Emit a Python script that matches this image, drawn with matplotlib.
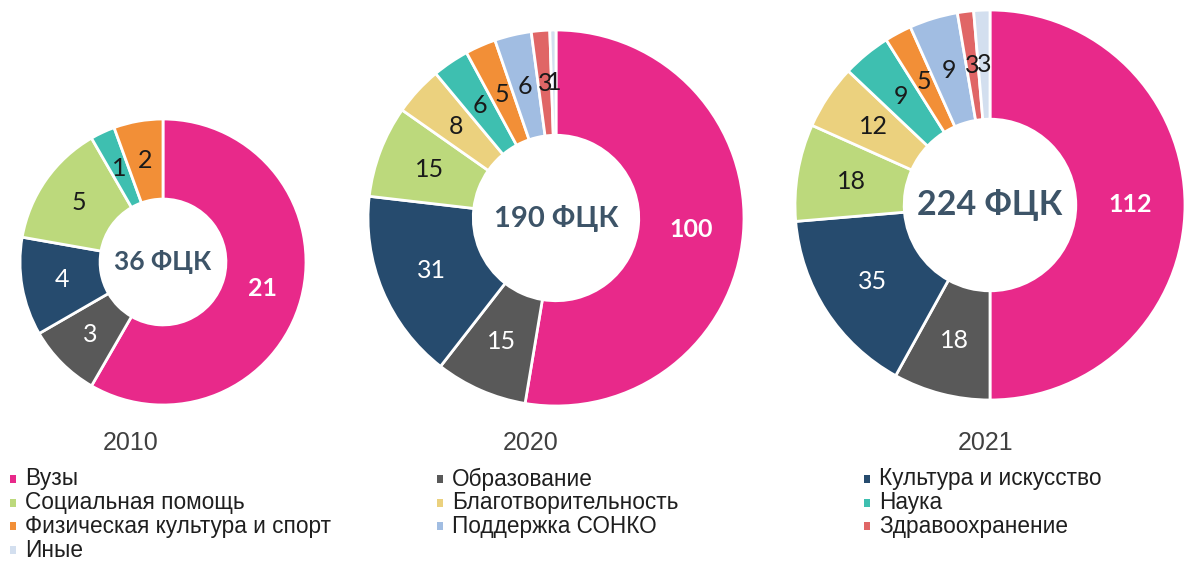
import numpy as np
import matplotlib.pyplot as plt
from matplotlib.patches import Rectangle

# категории и цвета
categories = ['Вузы', 'Образование', 'Культура и искусство', 'Социальная помощь',
              'Благотворительность', 'Наука', 'Физическая культура и спорт',
              'Поддержка СОНКО', 'Здравоохранение', 'Иные']
colors = ['#e8298a', '#595959', '#264b6e', '#bcd97c', '#ebd17e', '#3ebfb0',
          '#f28f37', '#a1bde2', '#e06666', '#d3dfef']

years = ['2010', '2020', '2021']
values_2010 = [21, 3, 4, 5, 0, 1, 2, 0, 0, 0]
values_2020 = [100, 15, 31, 15, 8, 6, 5, 6, 3, 1]
values_2021 = [112, 18, 35, 18, 12, 9, 5, 9, 3, 3]
all_values = [values_2010, values_2020, values_2021]

W, H = 1187, 562
fig = plt.figure(figsize=(W / 100, H / 100), dpi=100)
ax = fig.add_axes([0, 0, 1, 1])

# (центр x, центр y, радиус, размер шрифта в центре) в пикселях
donuts = [(163, 262, 143, 19), (556, 218, 188, 21), (990, 205, 195, 24.5)]
year_x = [131, 531, 986]
ring = 0.56
white_idx = [0, 1, 2]

for vals, (cx, cy, R, fs), yr, yx in zip(all_values, donuts, years, year_x):
    idx = [i for i, v in enumerate(vals) if v > 0]
    wedges, _ = ax.pie([vals[i] for i in idx], colors=[colors[i] for i in idx],
                       radius=R, center=(cx, H - cy), startangle=90,
                       counterclock=False,
                       wedgeprops=dict(width=R * ring, edgecolor='white', linewidth=2))
    rm = R * (1 - ring / 2)
    for w, i in zip(wedges, idx):
        th = np.deg2rad((w.theta1 + w.theta2) / 2)
        x = cx + rm * np.cos(th)
        y = H - cy + rm * np.sin(th)
        ax.text(x, y, str(vals[i]), ha='center', va='center',
                fontsize=18, family='Lato',
                color='white' if i in white_idx else '#1a1a1a',
                fontweight='bold' if i == 0 else 'normal')
    ax.text(cx, H - cy, f'{sum(vals)} ФЦК', ha='center', va='center',
            fontsize=fs, fontweight='bold', family='Lato', color='#3d5468')
    ax.text(yx, H - 443, yr, ha='center', va='center', fontsize=18,
            family='Liberation Sans', color='#404040')

# легенда
for i, (name, c) in enumerate(zip(categories, colors)):
    row, col = i // 3, i % 3
    x0 = 10 + col * 427
    y0 = H - (479 + row * 23.7)
    ax.add_patch(Rectangle((x0, y0 - 4), 6, 8, color=c, lw=0))
    ax.text(x0 + 15, y0, name, ha='left', va='center', fontsize=16.3,
            family='Liberation Sans', color='#1f1f1f')

ax.set_xlim(0, W)
ax.set_ylim(0, H)
ax.set_aspect('auto')
ax.set_axis_off()

fig.savefig('out.png', dpi=100)
